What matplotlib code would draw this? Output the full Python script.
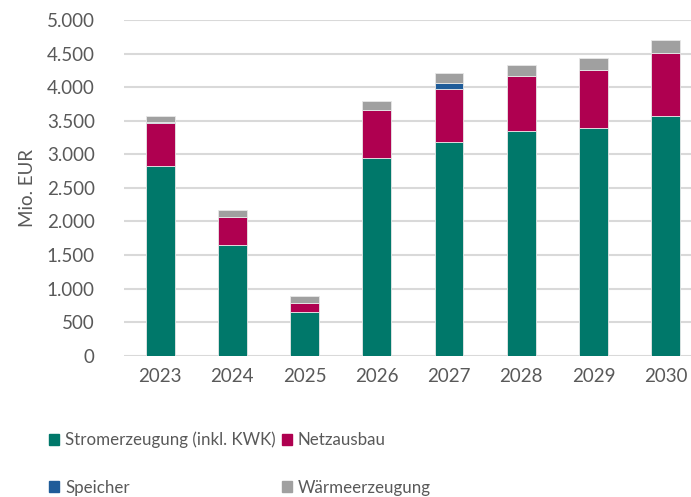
import numpy as np
import matplotlib.pyplot as plt
from matplotlib.patches import Patch

years = ["2023", "2024", "2025", "2026", "2027", "2028", "2029", "2030"]
strom = [2820, 1650, 650, 2940, 3185, 3345, 3385, 3575]
netz = [650, 410, 130, 715, 790, 820, 870, 935]
speicher = [10, 0, 0, 0, 80, 0, 0, 0]
waerme = [95, 110, 115, 140, 150, 165, 180, 195]

series = [
    ("Stromerzeugung (inkl. KWK)", strom, "#00786a"),
    ("Netzausbau", netz, "#af0050"),
    ("Speicher", speicher, "#1f5c99"),
    ("Wärmeerzeugung", waerme, "#a0a0a0"),
]

plt.rcParams['font.family'] = ['Lato', 'DejaVu Sans']
text_col = "#595959"

fig = plt.figure(figsize=(6.91, 4.97), dpi=100)
ax = fig.add_axes([124 / 691, 1 - 355.7 / 497, 1 - 124 / 691, (355.7 - 20) / 497])

x = np.arange(len(years))
bottom = np.zeros(len(years))
for name, vals, col in series:
    vals = np.array(vals, dtype=float)
    ax.bar(x, vals, width=0.4, bottom=bottom, color=col, edgecolor="#e8e8e8",
           linewidth=0.6, zorder=3, label=name)
    bottom += vals

ax.set_ylim(0, 5000)
ax.set_xlim(-0.5, 7.35)
ax.set_yticks(range(0, 5001, 500))
ax.set_yticklabels([f"{v:,}".replace(",", ".") for v in range(0, 5001, 500)])
ax.set_xticks(x)
ax.set_xticklabels(years)
ax.yaxis.grid(True, color="#d9d9d9", linewidth=1.5, zorder=0)
ax.set_axisbelow(True)
for s in ax.spines.values():
    s.set_visible(False)
ax.tick_params(length=0, labelsize=13.5, colors=text_col)
ax.tick_params(axis="y", pad=21)
ax.tick_params(axis="x", pad=9)
ax.set_ylabel("Mio. EUR", fontsize=13.5, color=text_col, labelpad=8)

# legend filled row by row: Strom | Netz, Speicher | Wärme
handles = [Patch(color=c) for _, _, c in series]
labels = [n for n, _, _ in series]
order = [0, 2, 1, 3]
fig.legend([handles[i] for i in order], [labels[i] for i in order],
           loc="upper left", bbox_to_anchor=(0.058, 0.148), ncol=2, frameon=False,
           fontsize=12.2, handlelength=0.62, handleheight=0.62, handletextpad=0.35,
           columnspacing=0.35, labelspacing=1.85, labelcolor=text_col, borderpad=0)

fig.savefig("out.png", dpi=100)
